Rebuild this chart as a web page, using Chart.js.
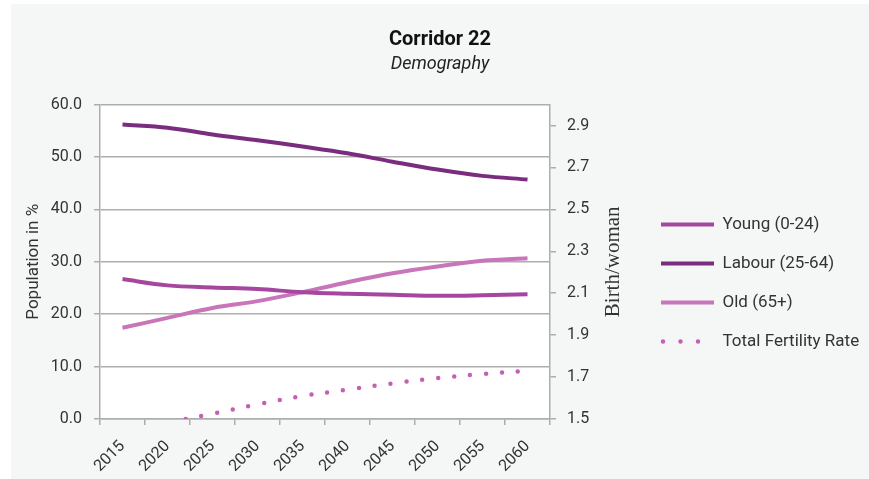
<!DOCTYPE html>
<html>
<head>
<meta charset="utf-8">
<script src="https://cdn.jsdelivr.net/npm/chart.js@4/dist/chart.umd.min.js"></script>
<style>
  html, body { margin: 0; padding: 0; background: #fff; }
  #wrap { position: absolute; left: 11px; top: 4px; width: 858px; height: 475px; }
</style>
</head>
<body>
<div id="wrap"><canvas id="chart"></canvas></div>
<script>
const years = ["2015", "2020", "2025", "2030", "2035", "2040", "2045", "2050", "2055", "2060"];
const young = [26.7, 25.5, 25.1, 24.8, 24.2, 23.9, 23.7, 23.5, 23.6, 23.8];
const labour = [56.2, 55.6, 54.3, 53.2, 52.0, 50.7, 49.1, 47.6, 46.4, 45.7];
const old = [17.4, 19.3, 21.2, 22.5, 24.2, 26.1, 27.8, 29.1, 30.2, 30.7];
const tfr = [1.45, 1.485, 1.525, 1.57, 1.61, 1.64, 1.67, 1.695, 1.715, 1.73];
const popTicks = [0, 10, 20, 30, 40, 50, 60];
const tfrTicks = [1.5, 1.7, 1.9, 2.1, 2.3, 2.5, 2.7, 2.9];

const gridGray = "#adadad";
const textCol = "#333333";
const sans = "Roboto, 'Noto Sans', sans-serif";

// gray panel + white plot area + right axis title (reads upwards)
const decor = {
  id: "decor",
  beforeDraw(chart) {
    const { ctx, chartArea: a } = chart;
    ctx.save();
    ctx.fillStyle = "#f5f7f6";
    ctx.fillRect(0, 0, chart.width, chart.height);
    ctx.fillStyle = "#ffffff";
    ctx.fillRect(a.left, a.top, a.right - a.left, a.bottom - a.top);
    ctx.restore();
  },
  afterUpdate(chart) {
    const lg = chart.legend;
    const dx = 628 - lg.left, dy = 190 - lg.top;
    lg.left += dx; lg.right += dx; lg.top += dy; lg.bottom += dy;
  },
  afterDraw(chart) {
    const { ctx, chartArea: a } = chart;
    ctx.save();
    ctx.translate(602, (a.top + a.bottom) / 2);
    ctx.rotate(-Math.PI / 2);
    ctx.font = "21px 'Liberation Serif', serif";
    ctx.fillStyle = textCol;
    ctx.textAlign = "center";
    ctx.textBaseline = "middle";
    ctx.fillText("Birth/woman", 0, 0);
    ctx.restore();
  }
};

const line = (label, data, color, axis) => ({
  label, data, yAxisID: axis,
  borderColor: color, backgroundColor: color,
  borderWidth: 4, pointRadius: 0, tension: 0.35, fill: false
});

const tfrSet = line("Total Fertility Rate", tfr, "#c460b3", "y1");
tfrSet.borderDash = [0, 16];
tfrSet.borderCapStyle = "round";
tfrSet.borderWidth = 4.5;

new Chart(document.getElementById("chart"), {
  type: "line",
  data: {
    labels: years,
    datasets: [
      line("Young (0-24)", young, "#a6479f", "y"),
      line("Labour (25-64)", labour, "#7a2c7e", "y"),
      line("Old (65+)", old, "#c875ba", "y"),
      tfrSet
    ]
  },
  options: {
    responsive: true,
    maintainAspectRatio: false,
    animation: false,
    layout: { padding: { left: 0, right: 0, top: 0, bottom: 0 } },
    plugins: {
      title: {
        display: true, text: "Corridor 22", color: "#111",
        font: { family: sans, size: 20, weight: "bold" },
        padding: { top: 24, bottom: 2 }
      },
      subtitle: {
        display: true, text: "Demography", color: "#222",
        font: { family: sans, size: 18, style: "italic" },
        padding: { top: 0, bottom: 29 }
      },
      legend: {
        position: "right", align: "start", fullSize: false, maxWidth: 229,
        labels: {
          usePointStyle: true, pointStyle: "line", pointStyleWidth: 53,
          padding: 22, color: textCol,
          font: { family: sans, size: 17 },
          generateLabels(chart) {
            const items = Chart.defaults.plugins.legend.labels.generateLabels(chart);
            items.forEach(it => {
              const ds = chart.data.datasets[it.datasetIndex];
              it.lineWidth = ds.borderWidth;
              if (ds.borderDash) {
                it.lineDash = [0, 17.5];
                it.lineDashOffset = -2;
                it.lineCap = "round";
              }
            });
            return items;
          }
        }
      },
      tooltip: { enabled: false }
    },
    scales: {
      x: {
        offset: true,
        grid: { display: true, drawOnChartArea: false, offset: true, tickLength: 6, color: gridGray, lineWidth: 1.5 },
        border: { color: gridGray, width: 1.5 },
        ticks: { color: textCol, font: { family: sans, size: 16 }, minRotation: 45, maxRotation: 45, padding: 12 },
        afterFit(s) { s.height = 60; }
      },
      y: {
        position: "left", min: 0, max: 60,
        afterBuildTicks(s) { s.ticks = popTicks.map(v => ({ value: v })); },
        grid: { color: gridGray, lineWidth: 1.5, tickLength: 6 },
        border: { color: gridGray, width: 1.5 },
        ticks: { color: textCol, font: { family: sans, size: 16 }, padding: 12, callback: v => v.toFixed(1) },
        title: { display: true, text: "Population in %", color: textCol, font: { family: sans, size: 17 }, padding: { top: 13, bottom: 0 } },
        afterFit(s) { s.width = 89; }
      },
      y1: {
        position: "right", min: 1.5, max: 3.0,
        afterBuildTicks(s) { s.ticks = tfrTicks.map(v => ({ value: v })); },
        grid: { drawOnChartArea: false, color: gridGray, lineWidth: 1.5, tickLength: 6 },
        border: { color: gridGray, width: 1.5 },
        ticks: { color: textCol, font: { family: sans, size: 16 }, padding: 11, callback: v => v.toFixed(1) },
        afterFit(s) { s.width = 90; }
      }
    }
  },
  plugins: [decor]
});
</script>
</body>
</html>
